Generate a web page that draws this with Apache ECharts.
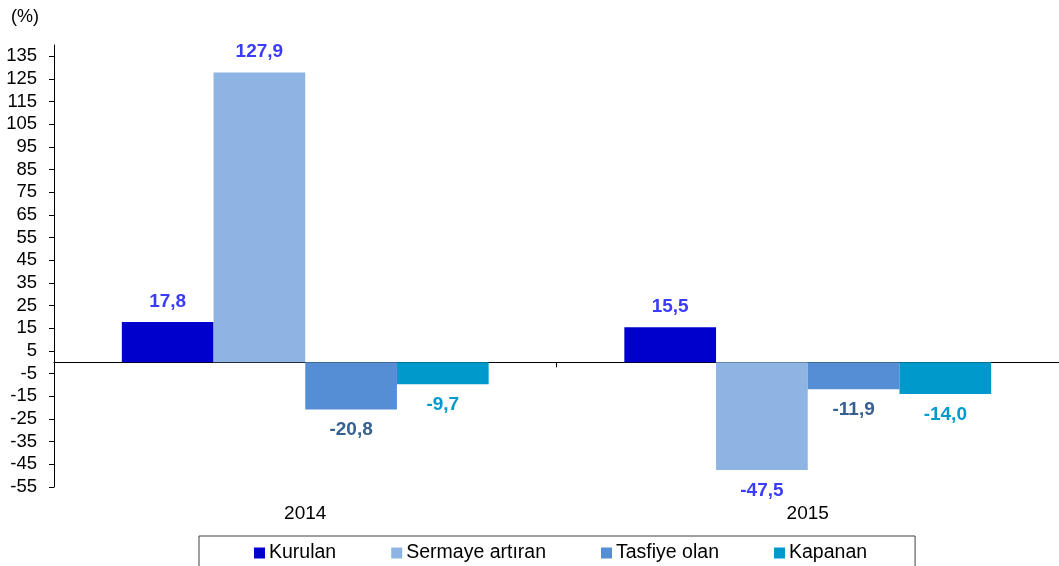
<!DOCTYPE html>
<html>
<head>
<meta charset="utf-8">
<script src="https://cdn.jsdelivr.net/npm/echarts@6/dist/echarts.min.js"></script>
<style>html,body{margin:0;padding:0;background:#fff;}#c{width:1059px;height:566px;}</style>
</head>
<body>
<div id="c"></div>
<script>
var categories = ['2014', '2015'];
var seriesNames = ['Kurulan', 'Sermaye artıran', 'Tasfiye olan', 'Kapanan'];
var kurulan = [17.8, 15.5];
var sermayeArtiran = [127.9, -47.5];
var tasfiyeOlan = [-20.8, -11.9];
var kapanan = [-9.7, -14.0];
var yTicks = [-55, -45, -35, -25, -15, -5, 5, 15, 25, 35, 45, 55, 65, 75, 85, 95, 105, 115, 125, 135];

var barColors = ['#0000CC', '#8EB4E3', '#558ED5', '#0099CC'];
var labelColors = ['#3B3BFA', '#3B3BFA', '#376092', '#0099CC'];
var allValues = [kurulan, sermayeArtiran, tasfiyeOlan, kapanan];
var FONT = 'Liberation Sans, Arial, sans-serif';

function fmt(v) { return v.toFixed(1).replace('.', ','); }

var series = allValues.map(function (vals, i) {
  return {
    name: seriesNames[i],
    type: 'bar',
    xAxisIndex: 0,
    barGap: '0%',
    barCategoryGap: '27%',
    itemStyle: { color: barColors[i] },
    data: vals.map(function (v) {
      return { value: v, label: { position: v < 0 ? 'bottom' : 'top' } };
    }),
    label: {
      show: true,
      distance: 11,
      color: labelColors[i],
      fontFamily: FONT,
      fontWeight: 'bold',
      fontSize: 19,
      formatter: function (p) { return fmt(p.value); }
    }
  };
});

var chart = echarts.init(document.getElementById('c'), null, { renderer: 'canvas' });
chart.setOption({
  animation: false,
  backgroundColor: '#fff',
  textStyle: { fontFamily: FONT },
  title: {
    text: '(%)',
    left: 6, top: 3,
    textStyle: { fontSize: 18, fontWeight: 'normal', color: '#000', fontFamily: FONT }
  },
  legend: {
    data: seriesNames,
    left: 199, top: 536,
    padding: [7, 48, 20, 55],
    itemGap: 55,
    itemWidth: 11, itemHeight: 11,
    icon: 'rect',
    borderColor: '#404040', borderWidth: 1,
    textStyle: { fontSize: 19.5, color: '#000', fontFamily: FONT, padding: [0, 0, 0, -1] }
  },
  grid: { left: 54, right: 0, top: 45, bottom: 79, containLabel: false },
  xAxis: [{
    type: 'category',
    data: categories,
    axisLine: { onZero: true, lineStyle: { color: '#000', width: 1 } },
    axisTick: { show: true, length: 5, lineStyle: { color: '#000' } },
    axisLabel: { show: false },
    splitLine: { show: false }
  }, {
    type: 'category',
    data: categories,
    position: 'bottom',
    axisLine: { show: false, onZero: false },
    axisTick: { show: false },
    axisLabel: { show: true, margin: 17, fontSize: 19, color: '#000', fontFamily: FONT },
    splitLine: { show: false }
  }],
  yAxis: {
    type: 'value',
    min: -55, max: 140, interval: 10,
    axisLine: { show: true, lineStyle: { color: '#000', width: 1 } },
    axisTick: { show: true, length: 5, lineStyle: { color: '#000' }, customValues: yTicks },
    axisLabel: { margin: 17, fontSize: 18.5, color: '#000', fontFamily: FONT, customValues: yTicks },
    splitLine: { show: false }
  },
  series: series
});
</script>
</body>
</html>
